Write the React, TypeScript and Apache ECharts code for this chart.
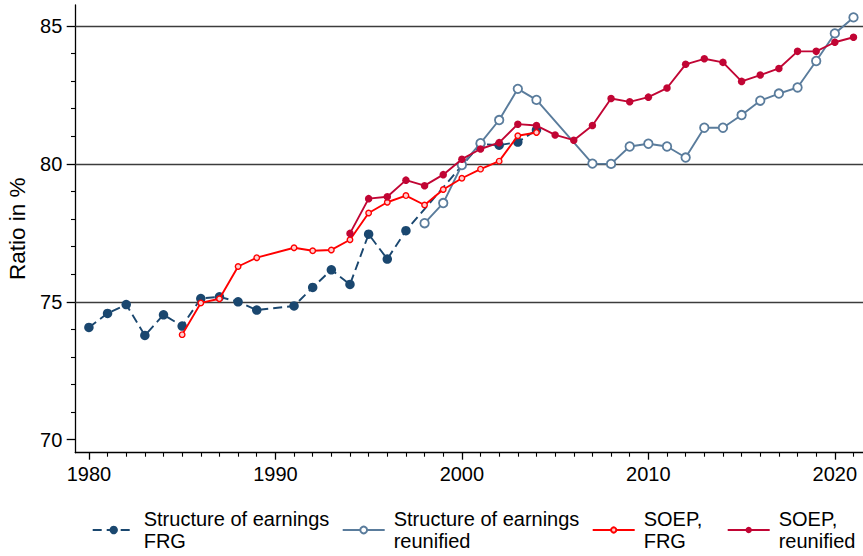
import React, { useEffect, useRef } from "react";
import * as echarts from "echarts";

// ---- Data ----
const years: number[] = Array.from({ length: 42 }, (_, i) => 1980 + i); // 1980..2021

const structureFRG: (number | null)[] = [
  74.07, 74.58, 74.9, 73.78, 74.53, 74.12, 75.12, 75.18, 75.0, 74.7,
  null, 74.85, 75.52, 76.16, 75.63, 77.45, 76.55, 77.58, null, null,
  null, 80.72, 80.68, 80.79, 81.23, null, null, null, null, null,
  null, null, null, null, null, null, null, null, null, null,
  null, null,
];

const structureReunified: (number | null)[] = [
  null, null, null, null, null, null, null, null, null, null,
  null, null, null, null, null, null, null, null, 77.85, 78.58,
  79.96, 80.75, 81.59, 82.72, 82.32, null, null, 80.01, 80.0, 80.63,
  80.73, 80.63, 80.23, 81.31, 81.31, 81.77, 82.29, 82.55, 82.77, 83.73,
  84.73, 85.31,
];

const soepFRG: (number | null)[] = [
  null, null, null, null, null, 73.81, 74.96, 75.11, 76.28, 76.6,
  null, 76.96, 76.85, 76.88, 77.25, 78.22, 78.61, 78.85, 78.51, 79.07,
  79.48, 79.81, 80.1, 81.02, 81.14, null, null, null, null, null,
  null, null, null, null, null, null, null, null, null, null,
  null, null,
];

const soepReunified: (number | null)[] = [
  null, null, null, null, null, null, null, null, null, null,
  null, null, null, null, 77.48, 78.74, 78.81, 79.41, 79.21, 79.61,
  80.17, 80.54, 80.77, 81.44, 81.39, 81.05, 80.86, 81.39, 82.37, 82.25,
  82.42, 82.75, 83.61, 83.81, 83.68, 82.99, 83.22, 83.46, 84.08, 84.08,
  84.41, 84.59,
];

const seriesNames: string[] = [
  "Structure of earnings\nFRG",
  "Structure of earnings\nreunified",
  "SOEP,\nFRG",
  "SOEP,\nreunified",
];

const xMajorTicks: number[] = [1980, 1990, 2000, 2010, 2020];
const yMajorTicks: number[] = [70, 75, 80, 85];
const yGridValues: number[] = [75, 80, 85];
const yAxisTitle = "Ratio in %";

const FONT = "'Liberation Sans', Arial, Helvetica, sans-serif";

function pairs(vals: (number | null)[]): [number, number][] {
  const out: [number, number][] = [];
  vals.forEach((v, i) => {
    if (v !== null) out.push([years[i], v]);
  });
  return out;
}

export default function App() {
  const ref = useRef<HTMLDivElement>(null);

  useEffect(() => {
    document.body.style.margin = "0";
    if (!ref.current) return;
    const chart = echarts.init(ref.current, undefined, { renderer: "svg" });

    const xMin = 1979.27;
    const xMax = 2021.51;
    const yMin = 69.53;
    const yMax = 85.76;

    const xMinorTicks = years.filter((y) => !xMajorTicks.includes(y));
    const yMinorTicks: number[] = [];
    for (let v = 70; v <= 85; v++) if (!yMajorTicks.includes(v)) yMinorTicks.push(v);

    const axisColor = "#000";

    const legendLefts = [91.7, 341.7, 591.7, 726.7];
    const legendIconHeights = [10.5, 8.5, 6.5, 8];

    const option: any = {
      animation: false,
      backgroundColor: "#fff",
      textStyle: { fontFamily: FONT },
      grid: {
        left: 75.3,
        right: 0,
        top: 5,
        bottom: 556 - 452.7,
        containLabel: false,
        outerBoundsMode: "none",
      },
      legend: seriesNames.map((n, i) => ({
        data: [n],
        left: legendLefts[i],
        top: 507.6,
        padding: 0,
        itemGap: 0,
        itemWidth: 42,
        itemHeight: legendIconHeights[i],
        selectedMode: false,
        textStyle: {
          fontFamily: FONT,
          fontSize: 20,
          lineHeight: 22.4,
          color: "#000",
          padding: [0, 0, 0, 4],
        },
      })),
      xAxis: [
        {
          type: "value",
          min: xMin,
          max: xMax,
          position: "bottom",
          axisLine: { show: true, lineStyle: { color: axisColor, width: 1.3 } },
          axisTick: {
            show: true,
            customValues: xMajorTicks,
            length: 7,
            lineStyle: { color: axisColor, width: 1.3 },
          },
          axisLabel: {
            show: true,
            customValues: xMajorTicks,
            formatter: (v: number) => String(v),
            fontSize: 20,
            color: "#000",
            fontFamily: FONT,
            margin: 11,
          },
          splitLine: { show: false },
        },
        {
          type: "value",
          min: xMin,
          max: xMax,
          position: "bottom",
          axisLine: { show: false },
          axisTick: {
            show: true,
            customValues: xMinorTicks,
            length: 4,
            lineStyle: { color: axisColor, width: 1.1 },
          },
          axisLabel: { show: false },
          splitLine: { show: false },
        },
      ],
      yAxis: [
        {
          type: "value",
          min: yMin,
          max: yMax,
          position: "left",
          name: yAxisTitle,
          nameLocation: "middle",
          nameGap: 40,
          nameTextStyle: { fontSize: 22.5, color: "#000", fontFamily: FONT },
          axisLine: { show: true, lineStyle: { color: axisColor, width: 1.3 } },
          axisTick: {
            show: true,
            customValues: yMajorTicks,
            length: 8.6,
            lineStyle: { color: axisColor, width: 1.3 },
          },
          axisLabel: {
            show: true,
            customValues: yMajorTicks,
            formatter: (v: number) => String(v),
            fontSize: 20,
            color: "#000",
            fontFamily: FONT,
            margin: 13,
          },
          splitLine: { show: false },
        },
        {
          type: "value",
          min: yMin,
          max: yMax,
          position: "left",
          axisLine: { show: false },
          axisTick: {
            show: true,
            customValues: yMinorTicks,
            length: 4.3,
            lineStyle: { color: axisColor, width: 1.1 },
          },
          axisLabel: { show: false },
          splitLine: { show: false },
        },
      ],
      series: [
        {
          name: seriesNames[0],
          type: "line",
          xAxisIndex: 0,
          yAxisIndex: 0,
          data: pairs(structureFRG),
          symbol: "circle",
          symbolSize: 9.5,
          itemStyle: { color: "#1a476f" },
          lineStyle: { color: "#1a476f", width: 1.9, type: [9, 5] },
          z: 2,
          markLine: {
            silent: true,
            symbol: ["none", "none"],
            z: 1,
            label: { show: false },
            lineStyle: { color: "#3c3c3c", width: 1.3, type: "solid" },
            emphasis: { disabled: true },
            data: yGridValues.map((v) => ({ yAxis: v })),
          },
        },
        {
          name: seriesNames[1],
          type: "line",
          xAxisIndex: 0,
          yAxisIndex: 0,
          data: pairs(structureReunified),
          symbol: "circle",
          symbolSize: 8.5,
          itemStyle: { color: "#ffffff", borderColor: "#5a7c9c", borderWidth: 1.8 },
          lineStyle: { color: "#5a7c9c", width: 1.9 },
          z: 3,
        },
        {
          name: seriesNames[2],
          type: "line",
          xAxisIndex: 0,
          yAxisIndex: 0,
          data: pairs(soepFRG),
          symbol: "circle",
          symbolSize: 5.5,
          itemStyle: { color: "#ffd0d0", borderColor: "#ff0000", borderWidth: 1.4 },
          lineStyle: { color: "#ff0000", width: 1.9 },
          z: 4,
        },
        {
          name: seriesNames[3],
          type: "line",
          xAxisIndex: 0,
          yAxisIndex: 0,
          data: pairs(soepReunified),
          symbol: "circle",
          symbolSize: 7.5,
          itemStyle: { color: "#c10534" },
          lineStyle: { color: "#c10534", width: 1.9 },
          z: 5,
        },
      ],
    };

    chart.setOption(option);
    return () => {
      chart.dispose();
    };
  }, []);

  return <div ref={ref} style={{ width: 863, height: 556 }} />;
}
